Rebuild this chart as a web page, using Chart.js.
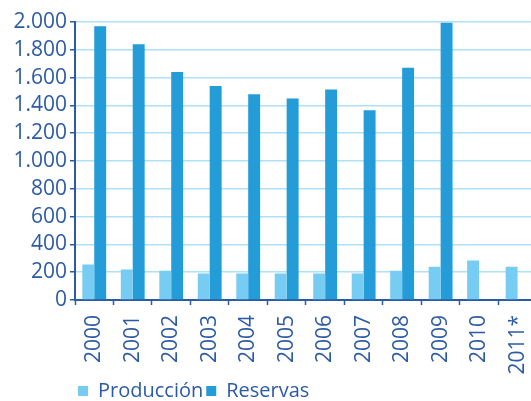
<!DOCTYPE html>
<html>
<head>
<meta charset="utf-8">
<script src="https://cdn.jsdelivr.net/npm/chart.js@4.4.0/dist/chart.umd.min.js"></script>
<style>
  html, body { margin: 0; padding: 0; background: #fff; overflow: hidden; }
  #wrap { width: 531px; height: 401px; overflow: hidden; }
</style>
</head>
<body>
<div id="wrap"><canvas id="chart" width="553" height="411"></canvas></div>
<script>
// Producción y reservas por año
const years = ['2000', '2001', '2002', '2003', '2004', '2005', '2006', '2007', '2008', '2009', '2010', '2011*'];
const produccion = [255, 220, 210, 190, 190, 190, 190, 190, 210, 240, 285, 240];
const reservas = [1970, 1840, 1640, 1540, 1480, 1450, 1515, 1365, 1670, 1995, null, null];
const yMin = 0;
const yMax = 2000;
const yStep = 200;

const dark = '#2c5ba6';
const light = '#76ccf2';
const mid = '#239cd8';
const gridColor = '#aee0f7';
const fontFamily = "'Open Sans', sans-serif";

// 2000 -> "2.000"
function fmt(v) {
    return String(v).replace(/\B(?=(\d{3})+(?!\d))/g, '.');
}

new Chart(document.getElementById('chart'), {
    type: 'bar',
    data: {
        labels: years,
        datasets: [
            {
                label: 'Producción',
                data: produccion,
                backgroundColor: light,
                categoryPercentage: 0.62,
                barPercentage: 1.0
            },
            {
                label: 'Reservas',
                data: reservas,
                backgroundColor: mid,
                categoryPercentage: 0.62,
                barPercentage: 1.0
            }
        ]
    },
    options: {
        responsive: false,
        animation: false,
        layout: {
            padding: { top: 22, right: 5, left: 0, bottom: 0 }
        },
        scales: {
            x: {
                offset: true,
                grid: {
                    display: true,
                    drawOnChartArea: false,
                    drawTicks: true,
                    tickLength: 5,
                    tickColor: dark,
                    tickWidth: 1.5,
                    offset: true
                },
                border: { display: true, color: dark, width: 2 },
                ticks: {
                    color: dark,
                    padding: 10,
                    minRotation: 90,
                    maxRotation: 90,
                    autoSkip: false,
                    font: { family: fontFamily, size: 21 }
                },
                afterFit: function(scale) {
                    scale.height = 78;
                }
            },
            y: {
                min: yMin,
                max: yMax,
                grid: {
                    color: gridColor,
                    lineWidth: 1.5,
                    drawTicks: true,
                    tickLength: 5,
                    tickColor: dark,
                    tickWidth: 1.5
                },
                border: { display: true, color: dark, width: 2 },
                ticks: {
                    stepSize: yStep,
                    autoSkip: false,
                    color: dark,
                    padding: 3,
                    font: { family: fontFamily, size: 21 },
                    callback: function(value) { return fmt(value); }
                },
                afterFit: function(scale) {
                    scale.width = 75;
                }
            }
        },
        plugins: {
            tooltip: { enabled: false },
            legend: {
                position: 'bottom',
                align: 'start',
                fullSize: false,
                labels: {
                    color: dark,
                    boxWidth: 10,
                    boxHeight: 10,
                    padding: 3,
                    font: { family: fontFamily, size: 20 }
                }
            }
        }
    }
});
</script>
</body>
</html>
